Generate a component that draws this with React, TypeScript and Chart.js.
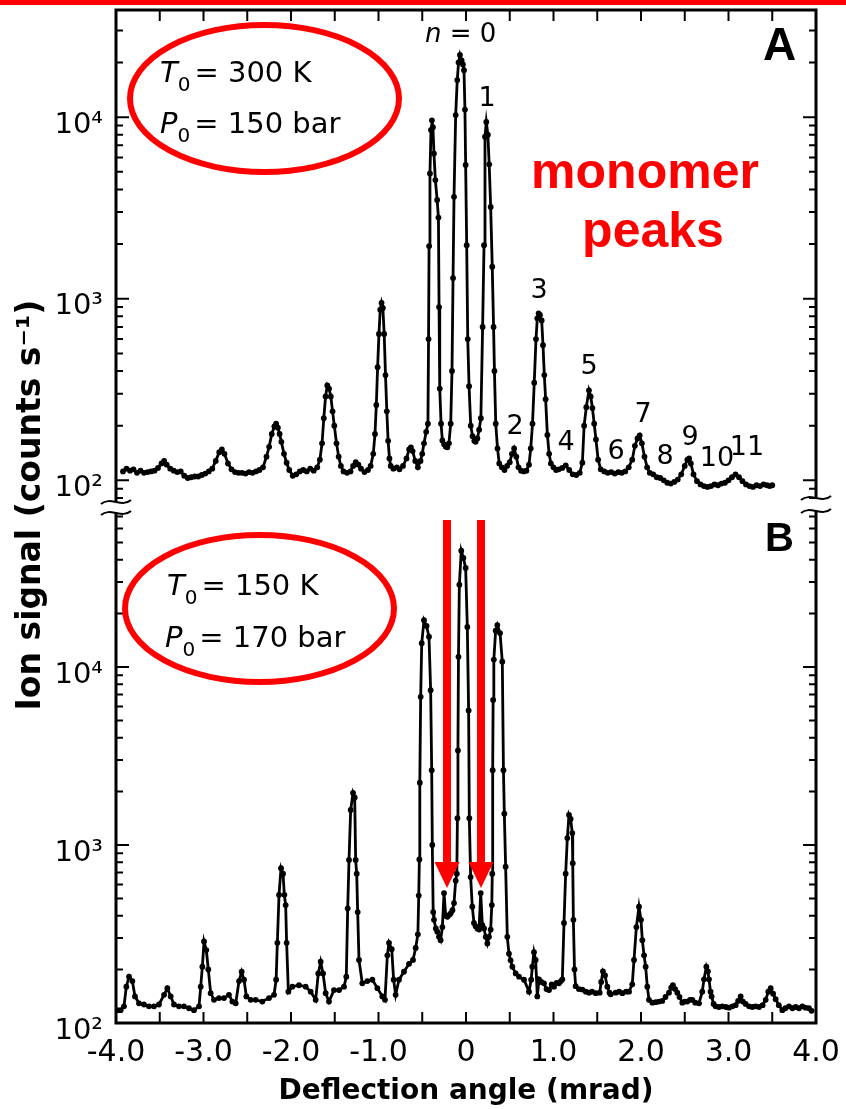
import React, { useEffect, useRef } from 'react';
import { Chart, registerables } from 'chart.js';

Chart.register(...registerables);

const W = 846;
const H = 1109;
const RED = '#ff0000';
const FONT = '"DejaVu Sans"';
const HELV = '"Liberation Sans"';

// ---- Panel A (T0 = 300 K, P0 = 150 bar) ----
const anglesA = [
  -3.92, -3.88, -3.84, -3.80, -3.76, -3.72, -3.68, -3.64, -3.60, -3.56,
  -3.52, -3.48, -3.45, -3.42, -3.38, -3.34, -3.30, -3.26, -3.22, -3.18,
  -3.14, -3.10, -3.06, -3.02, -2.98, -2.94, -2.90, -2.86, -2.82, -2.79,
  -2.76, -2.72, -2.68, -2.64, -2.60, -2.56, -2.52, -2.48, -2.44, -2.40,
  -2.36, -2.32, -2.28, -2.25, -2.22, -2.19, -2.17, -2.15, -2.13, -2.11,
  -2.08, -2.05, -2.02, -1.98, -1.94, -1.90, -1.86, -1.82, -1.78, -1.74,
  -1.70, -1.67, -1.645, -1.625, -1.605, -1.585, -1.565, -1.545, -1.525, -1.505,
  -1.48, -1.455, -1.43, -1.40, -1.36, -1.32, -1.29, -1.26, -1.23, -1.20,
  -1.16, -1.12, -1.09, -1.06, -1.04, -1.025, -1.01, -0.995, -0.98, -0.965,
  -0.95, -0.935, -0.92, -0.905, -0.89, -0.875, -0.86, -0.83, -0.79, -0.76,
  -0.72, -0.68, -0.65, -0.63, -0.61, -0.58, -0.55, -0.52, -0.50, -0.48,
  -0.455, -0.435, -0.428, -0.422, -0.412, -0.40, -0.39, -0.378, -0.366, -0.35,
  -0.33, -0.315, -0.308, -0.30, -0.285, -0.27, -0.25, -0.23, -0.213, -0.195,
  -0.175, -0.16, -0.148, -0.137, -0.118, -0.10, -0.085, -0.069, -0.05, -0.035,
  -0.023, -0.012, -0.004, 0.008, 0.02, 0.035, 0.054, 0.075, 0.095, 0.11,
  0.13, 0.15, 0.17, 0.19, 0.206, 0.217, 0.232, 0.25, 0.265, 0.282,
  0.30, 0.315, 0.325, 0.34, 0.36, 0.38, 0.41, 0.44, 0.47, 0.50,
  0.525, 0.55, 0.575, 0.60, 0.63, 0.66, 0.69, 0.72, 0.74, 0.76,
  0.78, 0.80, 0.815, 0.83, 0.845, 0.865, 0.88, 0.895, 0.91, 0.93,
  0.95, 0.97, 1.00, 1.03, 1.06, 1.10, 1.14, 1.18, 1.22, 1.26,
  1.30, 1.33, 1.35, 1.375, 1.405, 1.425, 1.445, 1.465, 1.485, 1.51,
  1.54, 1.58, 1.62, 1.66, 1.70, 1.74, 1.78, 1.82, 1.86, 1.90,
  1.93, 1.96, 1.985, 2.01, 2.04, 2.07, 2.10, 2.14, 2.18, 2.22,
  2.26, 2.30, 2.34, 2.38, 2.42, 2.46, 2.50, 2.53, 2.55, 2.57,
  2.60, 2.64, 2.68, 2.72, 2.76, 2.80, 2.84, 2.88, 2.92, 2.96,
  3.00, 3.04, 3.08, 3.12, 3.16, 3.20, 3.24, 3.28, 3.32, 3.36,
  3.40, 3.44, 3.47, 3.50,
];
const countsA = [
  112, 116, 113, 115, 110, 113, 110, 111, 112, 113,
  117, 124, 128, 122, 116, 113, 111, 112, 106, 103,
  104, 105, 105, 107, 109, 112, 116, 128, 143, 148,
  140, 124, 115, 111, 110, 110, 109, 111, 110, 112,
  114, 118, 135, 153, 180, 198, 205, 195, 180, 163,
  140, 125, 114, 106, 108, 112, 114, 112, 116, 113,
  118, 130, 160, 220, 290, 333, 320, 290, 240, 200,
  160, 135, 120, 112, 110, 112, 120, 126, 122, 116,
  111, 114, 120, 140, 180, 260, 420, 640, 870, 950,
  890, 640, 380, 240, 165, 132, 120, 116, 118, 115,
  120, 132, 148, 152, 145, 128, 118, 128, 140, 160,
  185, 205, 600, 1950, 4900, 8500, 9600, 8800, 6300, 4500,
  3500, 2800, 900, 320, 205, 166, 158, 153, 152, 160,
  205, 400, 1300, 3640, 10260, 16000, 20000, 22000, 20500, 19500,
  18150, 11000, 5450, 1970, 600, 330, 200, 175, 165, 163,
  170, 190, 220, 700, 1970, 7800, 9400, 8000, 5500, 3200,
  1500, 700, 400, 205, 150, 124, 118, 114, 120, 126,
  140, 150, 135, 118, 113, 112, 113, 122, 150, 205,
  345, 600, 780, 830, 815, 760, 555, 380, 280, 178,
  140, 124, 118, 114, 115, 117, 121, 114, 108, 107,
  110, 125, 200, 253, 313, 290, 250, 205, 168, 130,
  115, 112, 110, 111, 109, 111, 110, 112, 118, 130,
  155, 170, 177, 160, 135, 118, 110, 108, 104, 103,
  100, 97, 96, 98, 101, 108, 120, 130, 132, 124,
  108, 99, 95, 93, 92, 93, 95, 94, 96, 97,
  100, 104, 108, 104, 99, 95, 93, 92, 94, 93,
  95, 94, 93, 94,
];

// ---- Panel B (T0 = 150 K, P0 = 170 bar) ----
const anglesB = [
  -3.985, -3.947, -3.909, -3.882, -3.851, -3.813, -3.783, -3.737, -3.68, -3.623,
  -3.566, -3.509, -3.451, -3.413, -3.375, -3.337, -3.28, -3.223, -3.166, -3.109,
  -3.051, -3.032, -3.013, -2.994, -2.968, -2.945, -2.918, -2.88, -2.823, -2.766,
  -2.709, -2.67, -2.632, -2.594, -2.564, -2.537, -2.51, -2.461, -2.404, -2.328,
  -2.251, -2.194, -2.17, -2.156, -2.137, -2.114, -2.091, -2.076, -2.061, -2.05,
  -2.03, -1.985, -1.909, -1.832, -1.775, -1.718, -1.688, -1.661, -1.634, -1.604,
  -1.566, -1.509, -1.451, -1.394, -1.368, -1.352, -1.337, -1.318, -1.291, -1.272,
  -1.261, -1.249, -1.238, -1.223, -1.185, -1.128, -1.07, -1.013, -0.956, -0.926,
  -0.899, -0.88, -0.849, -0.827, -0.804, -0.766, -0.709, -0.651, -0.606, -0.575,
  -0.55, -0.54, -0.533, -0.528, -0.518, -0.506, -0.48, -0.451, -0.423, -0.404,
  -0.392, -0.385, -0.375, -0.366, -0.345, -0.328, -0.309, -0.29, -0.27, -0.251,
  -0.232, -0.213, -0.19, -0.175, -0.155, -0.137, -0.118, -0.105, -0.098, -0.092,
  -0.086, -0.076, -0.054, -0.03, -0.004, 0.015, 0.03, 0.038, 0.053, 0.072,
  0.091, 0.11, 0.13, 0.149, 0.168, 0.187, 0.206, 0.225, 0.244, 0.263,
  0.282, 0.295, 0.30, 0.305, 0.31, 0.318, 0.339, 0.358, 0.389, 0.415,
  0.428, 0.438, 0.453, 0.472, 0.491, 0.51, 0.53, 0.568, 0.606, 0.663,
  0.72, 0.745, 0.758, 0.777, 0.796, 0.815, 0.834, 0.86, 0.891, 0.92,
  0.949, 0.98, 1.006, 1.035, 1.063, 1.085, 1.101, 1.12, 1.139, 1.158,
  1.177, 1.196, 1.215, 1.22, 1.227, 1.24, 1.253, 1.29, 1.33, 1.37,
  1.406, 1.44, 1.482, 1.528, 1.545, 1.565, 1.589, 1.615, 1.64, 1.653,
  1.71, 1.75, 1.787, 1.83, 1.863, 1.9, 1.92, 1.947, 1.977, 2.0,
  2.015, 2.035, 2.053, 2.072, 2.091, 2.13, 2.167, 2.205, 2.243, 2.28,
  2.32, 2.345, 2.365, 2.39, 2.415, 2.44, 2.472, 2.5, 2.529, 2.56,
  2.586, 2.62, 2.663, 2.7, 2.72, 2.747, 2.765, 2.777, 2.795, 2.807,
  2.83, 2.853, 2.89, 2.929, 2.97, 3.006, 3.045, 3.082, 3.11, 3.139,
  3.165, 3.196, 3.235, 3.272, 3.31, 3.349, 3.39, 3.425, 3.455, 3.482,
  3.51, 3.539, 3.575, 3.615, 3.65, 3.691, 3.73, 3.768, 3.805, 3.844,
  3.88, 3.92, 3.95,
];
const countsB = [
  118, 118, 124, 160, 182, 172, 141, 129, 127, 124,
  124, 127, 144, 157, 141, 127, 124, 124, 121, 118,
  124, 160, 207, 287, 257, 200, 147, 135, 138, 138,
  144, 132, 129, 172, 194, 175, 141, 135, 135, 132,
  138, 144, 175, 282, 525, 740, 690, 525, 460, 282,
  150, 160, 163, 160, 150, 135, 190, 221, 190, 147,
  132, 153, 153, 160, 182, 441, 824, 1573, 1960, 1850,
  824, 690, 420, 226, 167, 172, 175, 157, 141, 135,
  240, 282, 260, 175, 144, 175, 194, 215, 226, 264,
  315, 520, 830, 2240, 6800, 13600, 18300, 17000, 14800, 7400,
  2630, 1000, 420, 380, 340, 326, 305, 292, 346, 537,
  400, 395, 405, 413, 430, 472, 630, 690, 1415, 3400,
  11400, 29000, 45000, 41000, 36000, 16800, 5700, 1415, 660, 450,
  365, 350, 340, 335, 537, 355, 340, 305, 280, 305,
  335, 460, 690, 2630, 6530, 11000, 16000, 17200, 15500, 10700,
  2630, 1500, 755, 305, 245, 225, 207, 190, 182, 175,
  150, 175, 207, 250, 226, 141, 176, 170, 167, 155,
  153, 165, 160, 168, 167, 172, 176, 365, 690, 1094,
  1475, 1400, 1167, 790, 380, 200, 161, 155, 154, 150,
  148, 150, 147, 148, 170, 195, 185, 160, 148, 145,
  148, 150, 147, 150, 150, 165, 226, 346, 450, 380,
  292, 240, 207, 160, 135, 130, 131, 132, 133, 140,
  148, 158, 163, 155, 148, 140, 130, 132, 132, 135,
  135, 130, 129, 150, 176, 207, 195, 176, 150, 141,
  128, 124, 123, 124, 123, 122, 124, 126, 133, 141,
  132, 128, 124, 123, 124, 123, 126, 135, 150, 157,
  146, 136, 126, 118, 121, 124, 121, 123, 121, 124,
  122, 121, 117,
];

// ---- Axes ----
const xTickValues = [-4, -3.5, -3, -2.5, -2, -1.5, -1, -0.5, 0, 0.5, 1, 1.5, 2, 2.5, 3, 3.5, 4];
const xTickLabels = ['-4.0', null, '-3.0', null, '-2.0', null, '-1.0', null, '0', null, '1.0', null, '2.0', null, '3.0', null, '4.0'];
const yTicksA = [80, 90, 100, 200, 300, 400, 500, 600, 700, 800, 900, 1000, 2000, 3000, 4000, 5000, 6000, 7000, 8000, 9000, 10000, 20000, 30000];
const yTicksB = [100, 200, 300, 400, 500, 600, 700, 800, 900, 1000, 2000, 3000, 4000, 5000, 6000, 7000, 8000, 9000, 10000, 20000, 30000, 40000, 50000, 60000, 70000];
const yDecades = [100, 1000, 10000];
const yDecadeLabels = ['10²', '10³', '10⁴'];
const xRange = [-4, 4];
const yRangeA = [76, 38900];
const yRangeB = [100, 73300];

// ---- Annotation texts ----
const peakLabels = ['1', '2', '3', '4', '5', '6', '7', '8', '9', '10', '11'];
const peakLabelPx = [[487, 99], [515, 427], [539, 291], [566, 443], [589, 367], [616, 452], [643, 415], [665, 457], [690, 438], [717, 459], [747, 448]];

// layout (pixels)
const PLOT_LEFT = 116;
const PLOT_RIGHT = 816;
const A_TOP = 10;
const A_BOTTOM = 502;
const B_TOP = 513;
const B_BOTTOM = 1023;

function yLabel(v: number) {
  const i = yDecades.indexOf(v);
  return i >= 0 ? yDecadeLabels[i] : null;
}

function drawYTicks(ctx: CanvasRenderingContext2D, chart: any, values: number[]) {
  const { left, right, top, bottom } = chart.chartArea;
  const ys = chart.scales.y;
  ctx.lineWidth = 2;
  values.forEach((v) => {
    const p = ys.getPixelForValue(v);
    if (p < top - 0.5 || p > bottom + 0.5) return;
    const len = yDecades.includes(v) ? 13 : 7;
    ctx.beginPath();
    ctx.moveTo(left, p);
    ctx.lineTo(left + len, p);
    ctx.moveTo(right, p);
    ctx.lineTo(right - len, p);
    ctx.stroke();
  });
}

function tilde(ctx: CanvasRenderingContext2D, cx: number, cy: number) {
  ctx.lineWidth = 2;
  ctx.beginPath();
  ctx.moveTo(cx - 15, cy + 2);
  ctx.bezierCurveTo(cx - 6, cy - 6, cx + 6, cy + 6, cx + 15, cy - 2);
  ctx.stroke();
}

function paramText(ctx: CanvasRenderingContext2D, x: number, base: number, sym: string, rest: string) {
  ctx.textAlign = 'left';
  ctx.textBaseline = 'alphabetic';
  ctx.font = `italic 29px ${FONT}`;
  ctx.fillText(sym, x, base);
  let w = ctx.measureText(sym).width;
  ctx.font = `20px ${FONT}`;
  ctx.fillText('0', x + w, base + 9);
  w += ctx.measureText('0').width + 4;
  ctx.font = `29px ${FONT}`;
  ctx.fillText(rest, x + w, base);
}

function ellipse(ctx: CanvasRenderingContext2D, cx: number, cy: number, rx: number, ry: number) {
  ctx.strokeStyle = RED;
  ctx.lineWidth = 6;
  ctx.beginPath();
  ctx.ellipse(cx, cy, rx, ry, 0, 0, Math.PI * 2);
  ctx.stroke();
}

const panelAPlugin = {
  id: 'panelA',
  afterDraw(chart: any) {
    const ctx: CanvasRenderingContext2D = chart.ctx;
    const { left, right, top, bottom } = chart.chartArea;
    const xs = chart.scales.x;
    ctx.save();
    ctx.fillStyle = RED;
    ctx.fillRect(0, 0, W, 5);

    ctx.strokeStyle = '#000';
    ctx.lineWidth = 3;
    ctx.beginPath();
    ctx.moveTo(left, bottom);
    ctx.lineTo(left, top);
    ctx.lineTo(right, top);
    ctx.lineTo(right, bottom - 4);
    ctx.stroke();
    drawYTicks(ctx, chart, yTicksA);
    ctx.lineWidth = 2;
    xTickValues.forEach((v) => {
      const px = xs.getPixelForValue(v);
      if (px <= left + 2 || px >= right - 2) return;
      ctx.beginPath();
      ctx.moveTo(px, top);
      ctx.lineTo(px, top + 11);
      ctx.stroke();
    });
    tilde(ctx, left, bottom);
    tilde(ctx, right, bottom - 4);

    // y axis title (spans both panels)
    ctx.save();
    ctx.translate(31, 505);
    ctx.rotate(-Math.PI / 2);
    ctx.fillStyle = '#000';
    ctx.font = `bold 33px ${FONT}`;
    ctx.textAlign = 'center';
    ctx.textBaseline = 'middle';
    ctx.fillText('Ion signal (counts s⁻¹)', 0, 0);
    ctx.restore();

    ctx.fillStyle = '#000';
    // n = 0
    ctx.textAlign = 'left';
    ctx.textBaseline = 'alphabetic';
    ctx.font = `italic 26px ${FONT}`;
    ctx.fillText('n', 425, 42);
    const nw = ctx.measureText('n').width;
    ctx.font = `26px ${FONT}`;
    ctx.fillText(' = 0', 425 + nw, 42);

    ctx.font = `27px ${FONT}`;
    ctx.textAlign = 'center';
    ctx.textBaseline = 'middle';
    peakLabels.forEach((t, i) => ctx.fillText(t, peakLabelPx[i][0], peakLabelPx[i][1]));

    ctx.font = `bold 46px ${HELV}`;
    ctx.textAlign = 'left';
    ctx.textBaseline = 'alphabetic';
    ctx.fillText('A', 763, 60);

    ellipse(ctx, 264.5, 98.5, 134.5, 73.5);
    ctx.fillStyle = '#000';
    paramText(ctx, 160, 82, 'T', '= 300 K');
    paramText(ctx, 160, 133, 'P', '= 150 bar');

    ctx.fillStyle = RED;
    ctx.font = `bold 50px ${HELV}`;
    ctx.textAlign = 'center';
    ctx.fillText('monomer', 645, 188);
    ctx.fillText('peaks', 653, 247);
    ctx.restore();
  },
};

const panelBPlugin = {
  id: 'panelB',
  afterDraw(chart: any) {
    const ctx: CanvasRenderingContext2D = chart.ctx;
    const { left, right, top, bottom } = chart.chartArea;
    const xs = chart.scales.x;
    ctx.save();
    ctx.strokeStyle = '#000';
    ctx.lineWidth = 3;
    ctx.beginPath();
    ctx.moveTo(left, top);
    ctx.lineTo(left, bottom);
    ctx.lineTo(right, bottom);
    ctx.lineTo(right, top - 2);
    ctx.stroke();
    drawYTicks(ctx, chart, yTicksB);
    ctx.lineWidth = 2;
    xTickValues.forEach((v) => {
      const px = xs.getPixelForValue(v);
      if (px <= left + 2 || px >= right - 2) return;
      ctx.beginPath();
      ctx.moveTo(px, bottom);
      ctx.lineTo(px, bottom - 11);
      ctx.stroke();
    });
    tilde(ctx, left, top);
    tilde(ctx, right, top - 2);

    ctx.fillStyle = '#000';
    ctx.font = `bold 40px ${HELV}`;
    ctx.textAlign = 'left';
    ctx.textBaseline = 'alphabetic';
    ctx.fillText('B', 765, 551);

    ellipse(ctx, 259.5, 608.5, 134.5, 73.5);
    ctx.fillStyle = '#000';
    paramText(ctx, 167, 595, 'T', '= 150 K');
    paramText(ctx, 165, 647, 'P', '= 170 bar');

    // red arrows
    ctx.fillStyle = RED;
    [447, 481].forEach((cx) => {
      ctx.fillRect(cx - 4, 520, 8, 344);
      ctx.beginPath();
      ctx.moveTo(cx - 12.5, 862);
      ctx.lineTo(cx + 12.5, 862);
      ctx.lineTo(cx, 888);
      ctx.closePath();
      ctx.fill();
    });
    ctx.restore();
  },
};

function makeConfig(angles: number[], counts: number[], yRange: number[], yTicks: number[], panel: 'A' | 'B') {
  const points = angles.map((a, i) => ({ x: a, y: counts[i] }));
  const isB = panel === 'B';
  return {
    type: 'line',
    data: {
      datasets: [
        {
          data: points,
          borderColor: '#000',
          borderWidth: 2.8,
          pointRadius: 2.9,
          pointBackgroundColor: '#000',
          pointBorderWidth: 0,
          tension: 0,
          fill: false,
        },
      ],
    },
    options: {
      animation: false,
      responsive: false,
      devicePixelRatio: 1,
      events: [],
      layout: {
        autoPadding: false,
        padding: isB
          ? { top: B_TOP, bottom: 0, left: 0, right: W - PLOT_RIGHT }
          : { top: A_TOP, bottom: H - A_BOTTOM, left: 0, right: W - PLOT_RIGHT },
      },
      plugins: { legend: { display: false }, tooltip: { enabled: false } },
      scales: {
        x: {
          type: 'linear',
          position: 'bottom',
          min: xRange[0],
          max: xRange[1],
          grid: { display: false, drawTicks: false },
          border: { display: false },
          afterBuildTicks: (scale: any) => {
            scale.ticks = xTickValues.map((v) => ({ value: v }));
          },
          afterFit: (scale: any) => {
            scale.height = isB ? H - B_BOTTOM : 0;
            scale.paddingLeft = 0;
            scale.paddingRight = 0;
            scale.paddingTop = 0;
            scale.paddingBottom = 0;
          },
          ticks: {
            display: isB,
            autoSkip: false,
            maxRotation: 0,
            padding: 12,
            color: '#000',
            font: { family: FONT, size: 30 },
            callback: (_v: any, i: number) => xTickLabels[i],
          },
          title: {
            display: isB,
            text: 'Deflection angle (mrad)',
            color: '#000',
            font: { family: FONT, size: 28, weight: 'bold', lineHeight: 1.2 },
            padding: { top: 0, bottom: 0 },
          },
        },
        y: {
          type: 'logarithmic',
          position: 'left',
          min: yRange[0],
          max: yRange[1],
          grid: { display: false, drawTicks: false },
          border: { display: false },
          afterBuildTicks: (scale: any) => {
            scale.ticks = yTicks.map((v) => ({ value: v }));
          },
          afterFit: (scale: any) => {
            scale.width = PLOT_LEFT;
            scale.paddingTop = 0;
            scale.paddingBottom = 0;
            scale.paddingLeft = 0;
            scale.paddingRight = 0;
          },
          ticks: {
            autoSkip: false,
            padding: 13,
            labelOffset: 8,
            color: '#000',
            font: { family: FONT, size: 29 },
            callback: (v: any) => yLabel(Number(v)),
          },
        },
      },
    },
    plugins: [isB ? panelBPlugin : panelAPlugin],
  } as any;
}

export default function App() {
  const refA = useRef<HTMLCanvasElement>(null);
  const refB = useRef<HTMLCanvasElement>(null);

  useEffect(() => {
    const chartA = new Chart(refA.current as HTMLCanvasElement, makeConfig(anglesA, countsA, yRangeA, yTicksA, 'A'));
    const chartB = new Chart(refB.current as HTMLCanvasElement, makeConfig(anglesB, countsB, yRangeB, yTicksB, 'B'));
    return () => {
      chartA.destroy();
      chartB.destroy();
    };
  }, []);

  return (
    <div style={{ position: 'absolute', left: 0, top: 0, width: W, height: H, background: '#fff' }}>
      <canvas ref={refA} width={W} height={H} style={{ position: 'absolute', left: 0, top: 0 }} />
      <canvas ref={refB} width={W} height={H} style={{ position: 'absolute', left: 0, top: 0 }} />
    </div>
  );
}
